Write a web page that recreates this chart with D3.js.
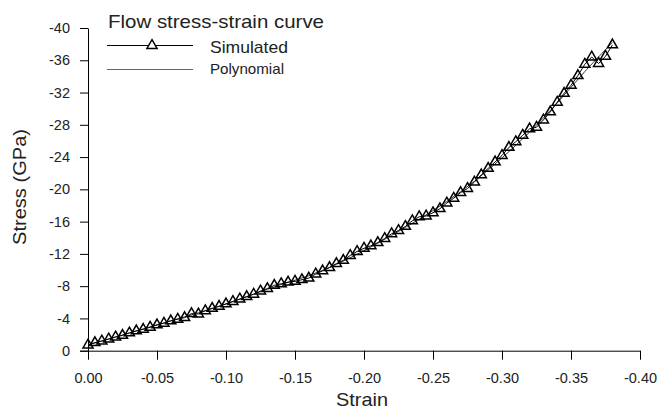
<!DOCTYPE html>
<html>
<head>
<meta charset="utf-8">
<script src="https://cdn.jsdelivr.net/npm/d3@7"></script>
<style>
  body { margin: 0; background: #fff; }
  svg { display: block; font-family: "Liberation Sans", Arial, sans-serif; }
</style>
</head>
<body>
<svg id="chart" width="657" height="411"></svg>
<script>
// simulated points, one every 0.005 strain
const strain = [0, -0.005, -0.01, -0.015, -0.02, -0.025, -0.03, -0.035, -0.04, -0.045,
  -0.05, -0.055, -0.06, -0.065, -0.07, -0.075, -0.08, -0.085, -0.09, -0.095,
  -0.10, -0.105, -0.11, -0.115, -0.12, -0.125, -0.13, -0.135, -0.14, -0.145,
  -0.15, -0.155, -0.16, -0.165, -0.17, -0.175, -0.18, -0.185, -0.19, -0.195,
  -0.20, -0.205, -0.21, -0.215, -0.22, -0.225, -0.23, -0.235, -0.24, -0.245,
  -0.25, -0.255, -0.26, -0.265, -0.27, -0.275, -0.28, -0.285, -0.29, -0.295,
  -0.30, -0.305, -0.31, -0.315, -0.32, -0.325, -0.33, -0.335, -0.34, -0.345,
  -0.35, -0.355, -0.36, -0.365, -0.37, -0.375, -0.38];
const stress = [-0.7, -1.0, -1.2, -1.45, -1.7, -1.9, -2.2, -2.45, -2.65, -2.9,
  -3.2, -3.4, -3.7, -3.9, -4.1, -4.6, -4.55, -4.95, -5.25, -5.5,
  -5.8, -6.1, -6.4, -6.7, -7.0, -7.4, -7.7, -8.1, -8.3, -8.5,
  -8.6, -8.8, -9.0, -9.5, -9.9, -10.3, -10.8, -11.2, -11.8, -12.3,
  -12.7, -13.0, -13.4, -13.9, -14.5, -14.9, -15.4, -16.1, -16.6, -16.7,
  -17.1, -17.6, -18.3, -18.9, -19.6, -20.1, -20.9, -21.8, -22.6, -23.4,
  -24.2, -25.2, -25.9, -26.7, -27.5, -27.7, -28.6, -29.6, -30.8, -31.9,
  -32.9, -34.1, -35.5, -36.4, -35.6, -36.5, -37.9];

// polynomial fit
const polyStrain = [0, -0.02, -0.04, -0.06, -0.08, -0.10, -0.12, -0.14, -0.16, -0.18,
  -0.20, -0.22, -0.24, -0.26, -0.28, -0.30, -0.32, -0.34, -0.36, -0.38];
const polyStress = [-0.7, -1.7, -2.7, -3.7, -4.7, -5.8, -7.0, -8.2, -9.3, -10.7,
  -12.4, -14.3, -16.3, -18.5, -21.0, -23.9, -27.1, -30.7, -34.6, -38.2];

const xTicks = [0, -0.05, -0.10, -0.15, -0.20, -0.25, -0.30, -0.35, -0.40];
const yTicks = [0, -4, -8, -12, -16, -20, -24, -28, -32, -36, -40];

const svg = d3.select("#chart");

const x = d3.scaleLinear().domain([0, -0.4]).range([88, 640]);
const y = d3.scaleLinear().domain([0, -40]).range([350.7, 28]);

const sim = strain.map((s, i) => [s, stress[i]]);
const poly = polyStrain.map((s, i) => [s, polyStress[i]]);

// axes
const xAxis = svg.append("g")
    .attr("transform", `translate(0, ${y(0)})`)
    .call(d3.axisBottom(x).tickValues(xTicks).tickSize(9).tickSizeOuter(0).tickPadding(13)
        .tickFormat(d => d.toFixed(2)));
const yAxis = svg.append("g")
    .attr("transform", `translate(${x(0)}, 0)`)
    .call(d3.axisLeft(y).tickValues(yTicks).tickSize(8).tickSizeOuter(0).tickPadding(10)
        .tickFormat(d => String(d)));

[xAxis, yAxis].forEach(g => {
    g.selectAll("path, line").attr("stroke", "#000").attr("stroke-width", 1);
    g.selectAll("text").attr("fill", "#222").attr("font-size", "14.5px")
        .attr("font-family", "Liberation Sans, Arial, sans-serif");
});

// x axis line reaches out to the 0 tick on the left
xAxis.append("line")
    .attr("x1", x(0) - 8).attr("x2", x(0))
    .attr("y1", 0.5).attr("y2", 0.5)
    .attr("stroke", "#000");

// axis titles
svg.append("text")
    .attr("x", 362).attr("y", 406)
    .attr("text-anchor", "middle")
    .attr("font-size", "19px")
    .attr("fill", "#222")
    .attr("textLength", 52).attr("lengthAdjust", "spacingAndGlyphs")
    .text("Strain");

svg.append("text")
    .attr("transform", "translate(26, 187) rotate(-90)")
    .attr("text-anchor", "middle")
    .attr("font-size", "19px")
    .attr("fill", "#222")
    .attr("textLength", 116).attr("lengthAdjust", "spacingAndGlyphs")
    .text("Stress (GPa)");

// lines
const line = d3.line().x(d => x(d[0])).y(d => y(d[1]));
const smooth = d3.line().curve(d3.curveCatmullRom.alpha(0.5)).x(d => x(d[0])).y(d => y(d[1]));

svg.append("path")
    .datum(poly)
    .attr("d", smooth)
    .attr("fill", "none")
    .attr("stroke", "#333")
    .attr("stroke-width", 1);

svg.append("path")
    .datum(sim)
    .attr("d", line)
    .attr("fill", "none")
    .attr("stroke", "#000")
    .attr("stroke-width", 1);

const tri = d3.symbol().type(d3.symbolTriangle).size(44);

svg.append("g")
    .selectAll("path")
    .data(sim)
    .join("path")
    .attr("transform", d => `translate(${x(d[0])}, ${y(d[1])})`)
    .attr("d", tri)
    .attr("fill", "none")
    .attr("stroke", "#000")
    .attr("stroke-width", 1.5);

// legend
const legend = svg.append("g");
legend.append("text")
    .attr("x", 108).attr("y", 28)
    .attr("font-size", "19px")
    .attr("fill", "#222")
    .attr("textLength", 216).attr("lengthAdjust", "spacingAndGlyphs")
    .text("Flow stress-strain curve");

legend.append("line")
    .attr("x1", 107).attr("x2", 193).attr("y1", 45.5).attr("y2", 45.5)
    .attr("stroke", "#000");
legend.append("path")
    .attr("transform", "translate(152, 45.5)")
    .attr("d", tri)
    .attr("fill", "#fff")
    .attr("stroke", "#000")
    .attr("stroke-width", 1.5);
legend.append("text")
    .attr("x", 210).attr("y", 53)
    .attr("font-size", "17px")
    .attr("fill", "#222")
    .attr("textLength", 78).attr("lengthAdjust", "spacingAndGlyphs")
    .text("Simulated");

legend.append("line")
    .attr("x1", 107).attr("x2", 193).attr("y1", 69.5).attr("y2", 69.5)
    .attr("stroke", "#666");
legend.append("text")
    .attr("x", 210).attr("y", 74)
    .attr("font-size", "15px")
    .attr("fill", "#222")
    .attr("textLength", 74).attr("lengthAdjust", "spacingAndGlyphs")
    .text("Polynomial");
</script>
</body>
</html>
